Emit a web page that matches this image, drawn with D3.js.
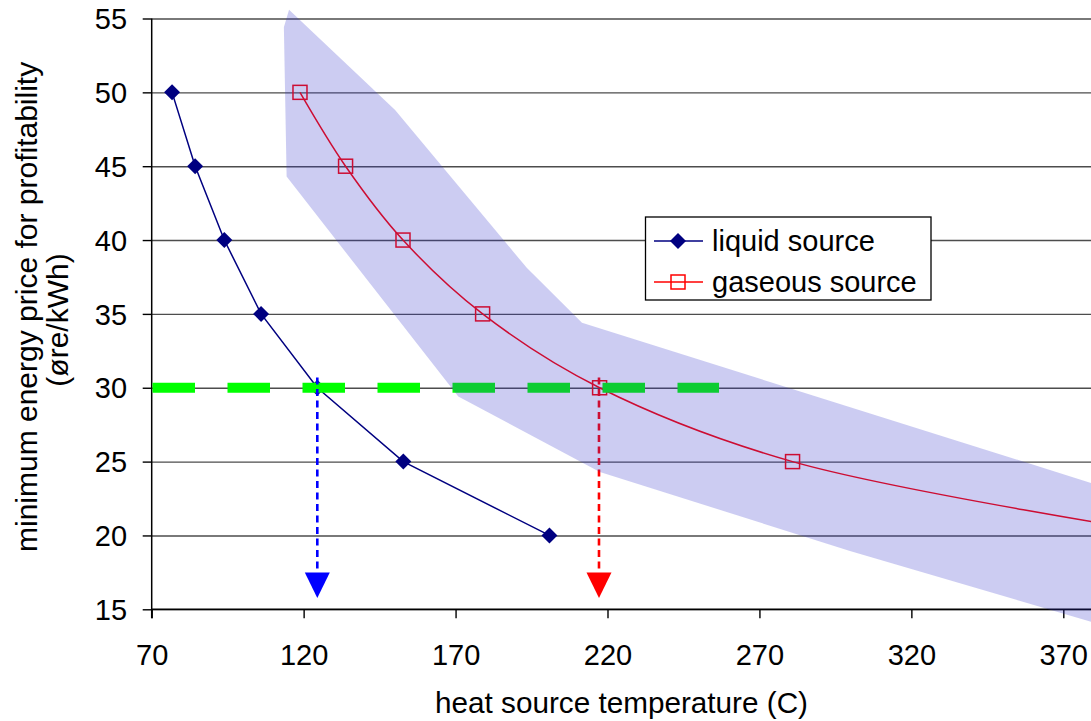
<!DOCTYPE html>
<html><head><meta charset="utf-8">
<script src="https://cdn.jsdelivr.net/npm/d3@7"></script>
<style>html,body{margin:0;padding:0;background:#fff;overflow:hidden}</style>
</head><body><svg id="c" width="1091" height="721"></svg>
<script>
// ---- data ----
const liquidX = [76.7, 84.3, 93.9, 106.0, 124.5, 152.8, 200.9];
const liquidY = [50, 45, 40, 35, 30, 25, 20];
const gasX = [118.8, 133.8, 152.7, 178.9, 217.4, 280.9, 407];
const gasY = [50, 45, 40, 35, 30, 25, 20];
const bandUpperX = [115.2, 150.1, 193.5, 211.6, 400];
const bandUpperY = [55.6, 48.8, 38.1, 34.4, 22.2];
const bandLowerX = [113.5, 114.4, 170.9, 217.5, 299.8, 400];
const bandLowerY = [54.4, 44.3, 29.4, 24.3, 18.95, 12.9];
const thresholdValue = 30;
const thresholdRange = [70, 256.7];
const arrowX = [124.5, 217.2];
const arrowTop = 30.7, arrowHead = 17.5, arrowTip = 15.77;
const xTicks = [70, 120, 170, 220, 270, 320, 370];
const yTicks = [15, 20, 25, 30, 35, 40, 45, 50, 55];
const seriesNames = ["liquid source", "gaseous source"];
const xTitle = "heat source temperature (C)";
const yTitle1 = "minimum energy price for profitability";
const yTitle2 = "(øre/kWh)";

// ---- layout ----
const W = 1091, H = 721;
const FONT = "'Liberation Sans', Arial, Helvetica, sans-serif";
const svg = d3.select("#c");
const x = d3.scaleLinear().domain([70, 370]).range([151.7, 1063.3]);
const y = d3.scaleLinear().domain([15, 55]).range([609.3, 18.5]);

// grid
const grid = svg.append("g").attr("transform", `translate(${x(70)},0)`)
  .call(d3.axisLeft(y).tickValues(yTicks).tickSize(-(W - x(70))).tickFormat(""));
grid.select(".domain").remove();
grid.selectAll("line").attr("stroke", "#4d4d4d").attr("stroke-width", 1.4);

// y axis ticks + labels
const ya = svg.append("g").attr("transform", `translate(${x(70)},0)`)
  .call(d3.axisLeft(y).tickValues(yTicks).tickSize(9).tickPadding(15.7).tickFormat(d3.format("d")));
ya.select(".domain").remove();
ya.selectAll("line").attr("stroke", "#000").attr("stroke-width", 1.4);
ya.selectAll("text").attr("font-family", FONT).attr("font-size", 29).attr("fill", "#000").attr("dy", "0.35em");

// x axis ticks + labels
const xa = svg.append("g").attr("transform", `translate(0,${y(15)})`)
  .call(d3.axisBottom(x).tickValues(xTicks).tickSize(9).tickFormat(d3.format("d")));
xa.select(".domain").remove();
xa.selectAll("line").attr("stroke", "#000").attr("stroke-width", 1.4);
xa.selectAll("text").attr("font-family", FONT).attr("font-size", 29).attr("fill", "#000")
  .attr("y", 55.5).attr("dy", 0);

// y axis line
svg.append("line").attr("x1", x(70)).attr("x2", x(70)).attr("y1", y(55)).attr("y2", y(15) + 9)
  .attr("stroke", "#000").attr("stroke-width", 1.5);
svg.append("line").attr("x1", x(70)).attr("x2", W).attr("y1", y(15)).attr("y2", y(15))
  .attr("stroke", "#000").attr("stroke-width", 1.4);

// liquid series
const liquid = liquidX.map((v, i) => [v, liquidY[i]]);
svg.append("path").datum(liquid)
  .attr("d", d3.line().x(d => x(d[0])).y(d => y(d[1])))
  .attr("fill", "none").attr("stroke", "#000080").attr("stroke-width", 1.5);
const dia = 8;
svg.append("g").selectAll("path").data(liquid).join("path")
  .attr("d", d => `M${x(d[0])},${y(d[1]) - dia}L${x(d[0]) + dia},${y(d[1])}L${x(d[0])},${y(d[1]) + dia}L${x(d[0]) - dia},${y(d[1])}Z`)
  .attr("fill", "#000080");

// gaseous series
const gas = gasX.map((v, i) => [v, gasY[i]]);
svg.append("path").datum(gas)
  .attr("d", d3.line().curve(d3.curveCatmullRom.alpha(0.5)).x(d => x(d[0])).y(d => y(d[1])))
  .attr("fill", "none").attr("stroke", "#ff0000").attr("stroke-width", 1.5);
const sq = 14;
svg.append("g").selectAll("rect").data(gas).join("rect")
  .attr("x", d => x(d[0]) - sq / 2).attr("y", d => y(d[1]) - sq / 2)
  .attr("width", sq).attr("height", sq)
  .attr("fill", "none").attr("stroke", "#ff0000").attr("stroke-width", 1.5);

// green threshold
svg.append("line").attr("x1", x(thresholdRange[0]) + 0.8).attr("x2", x(thresholdRange[1]))
  .attr("y1", y(thresholdValue)).attr("y2", y(thresholdValue))
  .attr("stroke", "#00ff00").attr("stroke-width", 10).attr("stroke-dasharray", "42.5,32.5");

// arrows
const arrowColors = ["#0000ff", "#ff0000"];
arrowX.forEach((v, i) => {
  svg.append("line").attr("x1", x(v)).attr("x2", x(v)).attr("y1", y(arrowTop)).attr("y2", y(arrowHead))
    .attr("stroke", arrowColors[i]).attr("stroke-width", 2.6).attr("stroke-dasharray", "7,4.5");
  const hw = 12.5;
  svg.append("path")
    .attr("d", `M${x(v) - hw},${y(arrowHead)}L${x(v) + hw},${y(arrowHead)}L${x(v)},${y(arrowTip)}Z`)
    .attr("fill", arrowColors[i]);
});

// band (drawn on top, translucent)
const bandPts = bandUpperX.map((v, i) => [v, bandUpperY[i]])
  .concat(bandLowerX.map((v, i) => [v, bandLowerY[i]]).reverse());
svg.append("path")
  .attr("d", "M" + bandPts.map(d => `${x(d[0])},${y(d[1])}`).join("L") + "Z")
  .attr("fill", "rgb(51,51,204)").attr("fill-opacity", 0.25);

// legend
const lg = svg.append("g");
lg.append("rect").attr("x", 645.5).attr("y", 217).attr("width", 285.5).attr("height", 83)
  .attr("fill", "#fff").attr("stroke", "#000").attr("stroke-width", 1.3);
const legY = [241, 282];
lg.append("line").attr("x1", 654).attr("x2", 703).attr("y1", legY[0]).attr("y2", legY[0]).attr("stroke", "#000080").attr("stroke-width", 1.5);
lg.append("path").attr("d", `M678,${legY[0] - dia}L${678 + dia},${legY[0]}L678,${legY[0] + dia}L${678 - dia},${legY[0]}Z`).attr("fill", "#000080");
lg.append("line").attr("x1", 654).attr("x2", 703).attr("y1", legY[1]).attr("y2", legY[1]).attr("stroke", "#ff0000").attr("stroke-width", 1.5);
lg.append("rect").attr("x", 678 - sq / 2).attr("y", legY[1] - sq / 2).attr("width", sq).attr("height", sq)
  .attr("fill", "none").attr("stroke", "#ff0000").attr("stroke-width", 1.5);
seriesNames.forEach((n, i) => {
  lg.append("text").attr("x", 712).attr("y", legY[i]).attr("dy", "0.35em")
    .attr("font-family", FONT).attr("font-size", 29).attr("fill", "#000").text(n);
});

// axis titles
svg.append("text").attr("x", 621.5).attr("y", 713).attr("text-anchor", "middle")
  .attr("font-family", FONT).attr("font-size", 29.7).attr("fill", "#000").text(xTitle);
svg.append("clipPath").attr("id", "ytclip").append("rect").attr("x", 0).attr("y", 58).attr("width", 150).attr("height", 600);
const yt = svg.append("g").attr("clip-path", "url(#ytclip)");
yt.append("text").attr("transform", "translate(37,552) rotate(-90)").attr("text-anchor", "start")
  .attr("font-family", FONT).attr("font-size", 30).attr("fill", "#000").text(yTitle1);
yt.append("text").attr("transform", "translate(68,320) rotate(-90)").attr("text-anchor", "middle")
  .attr("font-family", FONT).attr("font-size", 30).attr("fill", "#000").text(yTitle2);
</script></body></html>
